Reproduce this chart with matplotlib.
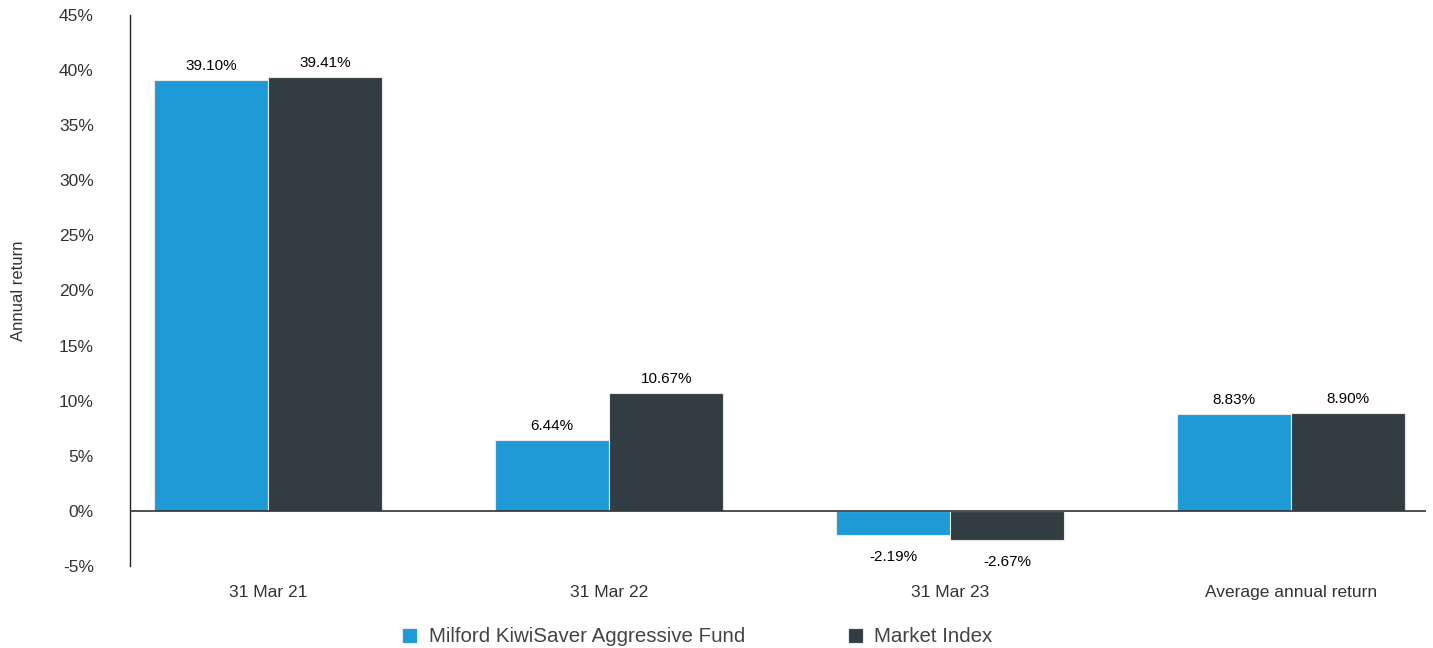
import matplotlib
matplotlib.use("Agg")
import matplotlib.pyplot as plt
import numpy as np

categories = ["31 Mar 21", "31 Mar 22", "31 Mar 23", "Average annual return"]
fund = [39.10, 6.44, -2.19, 8.83]
index = [39.41, 10.67, -2.67, 8.90]
series_names = ["Milford KiwiSaver Aggressive Fund", "Market Index"]
yticks = [-5, 0, 5, 10, 15, 20, 25, 30, 35, 40, 45]

plt.rcParams['font.family'] = ['Liberation Sans', 'DejaVu Sans']

fig = plt.figure(figsize=(14.33, 6.48), dpi=100)
ax = fig.add_axes([0.0907, 0.1265, 0.9043, 0.8504])

x = np.arange(len(categories))
w = 0.335
c_fund = "#1E9AD6"
c_idx = "#323C43"
b1 = ax.bar(x - w / 2, fund, w, color=c_fund, edgecolor="#e8e8e8", linewidth=0.8, label=series_names[0], zorder=2)
b2 = ax.bar(x + w / 2, index, w, color=c_idx, edgecolor="#e8e8e8", linewidth=0.8, label=series_names[1], zorder=2)

for bars, vals in ((b1, fund), (b2, index)):
    for rect, v in zip(bars, vals):
        cx = rect.get_x() + rect.get_width() / 2
        if v >= 0:
            ax.annotate(f"{v:.2f}%", (cx, v), xytext=(0, 5), textcoords="offset points",
                        ha="center", va="bottom", fontsize=11, color="#000000")
        else:
            ax.annotate(f"{v:.2f}%", (cx, v), xytext=(0, -10.5), textcoords="offset points",
                        ha="center", va="top", fontsize=11, color="#000000")

ax.axhline(0, color="#333333", linewidth=1.2, zorder=3)
ax.set_xlim(-0.405, 3.395)
ax.set_ylim(-5, 45)
ax.set_yticks(yticks)
ax.set_yticklabels([f"{t}%" for t in yticks])
ax.set_xticks(x)
ax.set_xticklabels(categories)
ax.tick_params(axis="both", length=0, labelsize=12.5, colors="#333333")
ax.tick_params(axis="y", pad=26)
ax.tick_params(axis="x", pad=14)
for s in ("top", "right", "bottom"):
    ax.spines[s].set_visible(False)
ax.spines["left"].set_color("#222222")
ax.spines["left"].set_linewidth(1.0)
ax.set_ylabel("Annual return", fontsize=12, color="#333333")
ax.yaxis.set_label_coords(-0.080, 0.5)

leg = fig.legend(handles=[b1, b2], labels=series_names, loc="center", bbox_to_anchor=(0.4865, 0.017),
                 ncol=2, frameon=False, fontsize=14.8, handlelength=0.75, handleheight=0.75,
                 columnspacing=5.0, handletextpad=0.55)
for t in leg.get_texts():
    t.set_color("#444444")

fig.savefig("out.png", dpi=100)
